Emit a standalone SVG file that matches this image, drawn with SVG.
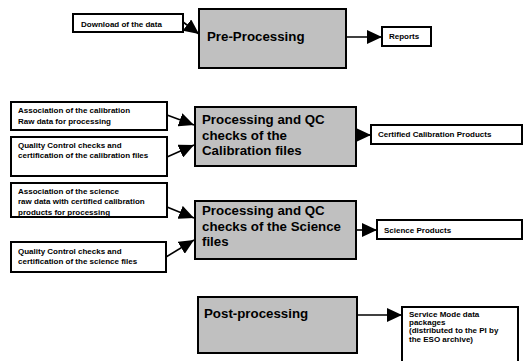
<svg xmlns="http://www.w3.org/2000/svg" width="523" height="361" viewBox="0 0 523 361">
<style>
.bx{fill:#fff;stroke:#000;stroke-width:2}
.gb{fill:#c0c0c0;stroke:#000;stroke-width:2}
.s{font-family:"Liberation Sans",Arial,sans-serif;font-weight:bold;font-size:8px;fill:#000}
.b{font-family:"Liberation Sans",Arial,sans-serif;font-weight:bold;font-size:13.3px;fill:#000}
.c{stroke:#000;stroke-width:1.6;fill:none;marker-end:url(#ah)}
</style>
<defs>
<marker id="ah" markerUnits="userSpaceOnUse" markerWidth="15" markerHeight="14" refX="15" refY="7" orient="auto">
<path d="M0,0 L15,7 L0,14 z" fill="#000"/>
</marker>
</defs>
<rect width="523" height="361" fill="#fff"/>
<g id="connectors">
<line class="c" x1="183" y1="22" x2="199" y2="34"/>
<line class="c" x1="346" y1="37" x2="382" y2="37"/>
<line class="c" x1="167" y1="115" x2="194" y2="125"/>
<line class="c" x1="167" y1="157" x2="194" y2="145"/>
<line class="c" x1="356" y1="135" x2="371" y2="135"/>
<line class="c" x1="167" y1="207" x2="194" y2="218"/>
<line class="c" x1="166" y1="257" x2="194" y2="240"/>
<line class="c" x1="356" y1="230" x2="377" y2="230"/>
<line class="c" x1="357" y1="315" x2="402" y2="315"/>
</g>
<g id="download">
<rect class="bx" x="73" y="14" width="110" height="18"/>
<text class="s" x="81" y="26.5">Download of the data</text>
</g>
<g id="preprocessing">
<rect class="gb" x="199" y="9" width="147" height="59"/>
<text class="b" x="207" y="41">Pre-Processing</text>
</g>
<g id="reports">
<rect class="bx" x="382" y="27" width="49" height="19"/>
<text class="s" x="389" y="39">Reports</text>
</g>
<g id="assoc-calib">
<rect class="bx" x="11" y="102" width="156" height="28"/>
<text class="s" x="18" y="113">Association of the calibration</text>
<text class="s" x="18" y="123.5">Raw data for processing</text>
</g>
<g id="qc-calib">
<rect class="bx" x="11" y="137" width="156" height="39"/>
<text class="s" x="18" y="147.5">Quality Control checks and</text>
<text class="s" x="18" y="158">certification of the calibration files</text>
</g>
<g id="proc-calib">
<rect class="gb" x="195" y="107" width="161" height="59"/>
<text class="b" x="202" y="124">Processing and QC</text>
<text class="b" x="202" y="139.5">checks of the</text>
<text class="b" x="202" y="155">Calibration files</text>
</g>
<g id="certified">
<rect class="bx" x="371" y="125" width="151" height="19"/>
<text class="s" x="378" y="137">Certified Calibration Products</text>
</g>
<g id="assoc-sci">
<rect class="bx" x="11" y="183" width="156" height="34"/>
<text class="s" x="18" y="193.5">Association of the science</text>
<text class="s" x="18" y="204">raw data with certified calibration</text>
<text class="s" x="18" y="214.5">products for processing</text>
</g>
<g id="qc-sci">
<rect class="bx" x="11" y="242" width="155" height="30"/>
<text class="s" x="18" y="253.5">Quality Control checks and</text>
<text class="s" x="18" y="264">certification of the science files</text>
</g>
<g id="proc-sci">
<rect class="gb" x="195" y="201" width="161" height="58"/>
<text class="b" x="202" y="215">Processing and QC</text>
<text class="b" x="202" y="230.5">checks of the Science</text>
<text class="b" x="202" y="246">files</text>
</g>
<g id="science-products">
<rect class="bx" x="377" y="220" width="145" height="19"/>
<text class="s" x="384" y="232.5">Science Products</text>
</g>
<g id="postprocessing">
<rect class="gb" x="198" y="297" width="159" height="56"/>
<text class="b" x="204" y="318">Post-processing</text>
</g>
<g id="service-mode">
<rect class="bx" x="402" y="307" width="116" height="60"/>
<text class="s" x="409" y="317">Service Mode data</text>
<text class="s" x="409" y="325">packages</text>
<text class="s" x="409" y="333.2">(distributed to the PI by</text>
<text class="s" x="409" y="341.5">the ESO archive)</text>
</g>
</svg>
